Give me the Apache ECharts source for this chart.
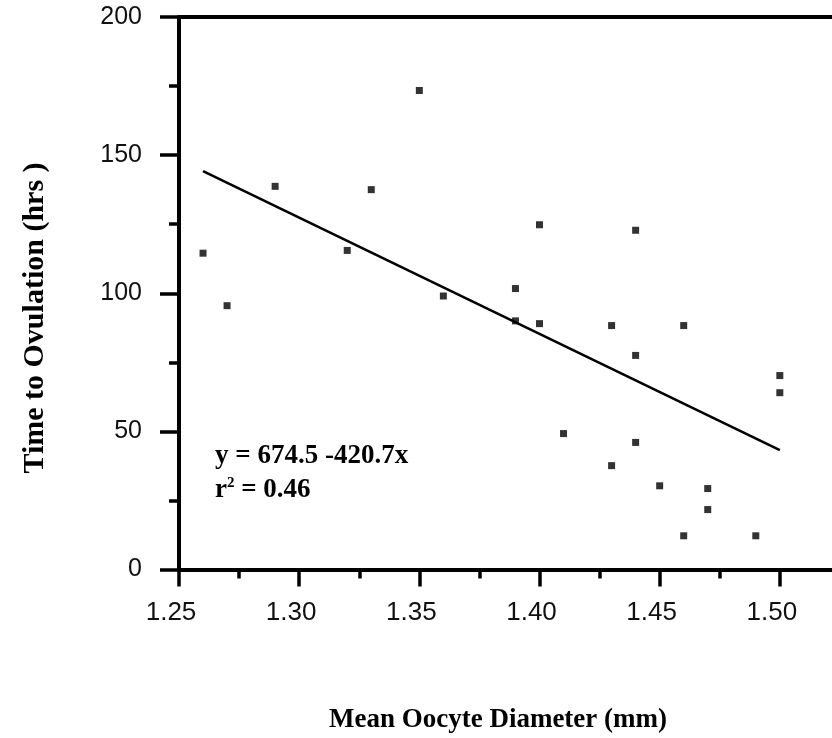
<!DOCTYPE html>
<html>
<head>
<meta charset="utf-8">
<script src="https://cdn.jsdelivr.net/npm/echarts@6/dist/echarts.min.js"></script>
<style>
  html, body { margin: 0; padding: 0; background: #fff; }
  #chart { width: 832px; height: 738px; }
</style>
</head>
<body>
<div id="chart"></div>
<script>
  const diameter = [
    1.26, 1.27, 1.29, 1.32, 1.33, 1.35, 1.36, 1.39, 1.39, 1.40,
    1.40, 1.41, 1.43, 1.43, 1.44, 1.44, 1.44, 1.45, 1.46, 1.46,
    1.47, 1.47, 1.49, 1.50, 1.50,
  ];
  const hours = [
    114.5, 95.5, 138.7, 115.5, 137.5, 173.4, 99, 101.7, 90, 124.8,
    89, 49.2, 88.3, 37.6, 122.8, 77.5, 46, 30.3, 88.3, 12.2,
    29.3, 21.7, 12.2, 70.2, 64,
  ];
  const fitX = [1.26, 1.50];
  const fitY = [144.2, 43.2];

  const xTicks = { min: 1.25, max: 1.55, interval: 0.05 };
  const yTicks = { min: 0, max: 200, interval: 50 };

  const serif = "'Liberation Serif', 'Times New Roman', serif";
  const sans = "'Liberation Sans', Arial, sans-serif";

  const chart = echarts.init(document.getElementById("chart"));

  chart.setOption({
    backgroundColor: "#fff",
    animation: false,
    grid: { left: 179, top: 17, width: 721, bottom: 168.5, outerBoundsMode: "none", containLabel: false },
    xAxis: [
      {
        type: "value",
        min: xTicks.min,
        max: xTicks.max,
        interval: xTicks.interval,
        axisLine: { lineStyle: { color: "#000", width: 4 } },
        axisTick: { length: 17, lineStyle: { color: "#000", width: 3.5 } },
        minorTick: { show: true, splitNumber: 2, length: 9, lineStyle: { color: "#000", width: 3.5 } },
        splitLine: { show: false },
        axisLabel: {
          margin: 30,
          color: "#111",
          fontFamily: sans,
          fontSize: 26,
          padding: [0, 16, 0, 0],
          formatter: (v) => v.toFixed(2),
        },
      },
      {
        type: "value",
        position: "top",
        min: xTicks.min,
        max: xTicks.max,
        axisLine: { show: true, lineStyle: { color: "#000", width: 4 } },
        axisTick: { show: false },
        axisLabel: { show: false },
        splitLine: { show: false },
      },
    ],
    yAxis: {
      type: "value",
      min: yTicks.min,
      max: yTicks.max,
      interval: yTicks.interval,
      axisLine: { show: true, lineStyle: { color: "#000", width: 4 } },
      axisTick: { length: 19, lineStyle: { color: "#000", width: 3.5 } },
      minorTick: { show: true, splitNumber: 2, length: 10, lineStyle: { color: "#000", width: 3.5 } },
      splitLine: { show: false },
      axisLabel: {
        margin: 37,
        color: "#111",
        fontFamily: sans,
        fontSize: 25,
        padding: [8, 0, 0, 0],
      },
    },
    series: [
      {
        type: "scatter",
        symbol: "rect",
        symbolSize: 7,
        itemStyle: { color: "#000" },
        data: diameter.map((d, i) => [d, hours[i]]),
      },
      {
        type: "line",
        showSymbol: false,
        lineStyle: { color: "#000", width: 2.6 },
        data: fitX.map((d, i) => [d, fitY[i]]),
      },
    ],
    graphic: [
      {
        type: "text",
        x: 215,
        y: 456,
        style: {
          text: "y = 674.5 -420.7x",
          font: `bold 27px ${serif}`,
          fill: "#000",
          verticalAlign: "middle",
        },
      },
      {
        type: "text",
        x: 215,
        y: 490,
        style: {
          text: "{a|r}{s|2}{a| = 0.46}",
          fill: "#000",
          verticalAlign: "middle",
          rich: {
            a: { fontFamily: serif, fontWeight: "bold", fontSize: 27, lineHeight: 28 },
            s: { fontFamily: serif, fontWeight: "bold", fontSize: 15, lineHeight: 28, verticalAlign: "top" },
          },
        },
      },
      {
        type: "text",
        x: 35,
        y: 318,
        rotation: Math.PI / 2,
        style: {
          text: "Time to Ovulation (hrs )",
          font: `bold 30px ${serif}`,
          fill: "#000",
          align: "center",
          verticalAlign: "middle",
        },
      },
      {
        type: "text",
        x: 498,
        y: 720,
        style: {
          text: "Mean Oocyte Diameter (mm)",
          font: `bold 27px ${serif}`,
          fill: "#000",
          align: "center",
          verticalAlign: "middle",
        },
      },
    ],
  });
</script>
</body>
</html>
